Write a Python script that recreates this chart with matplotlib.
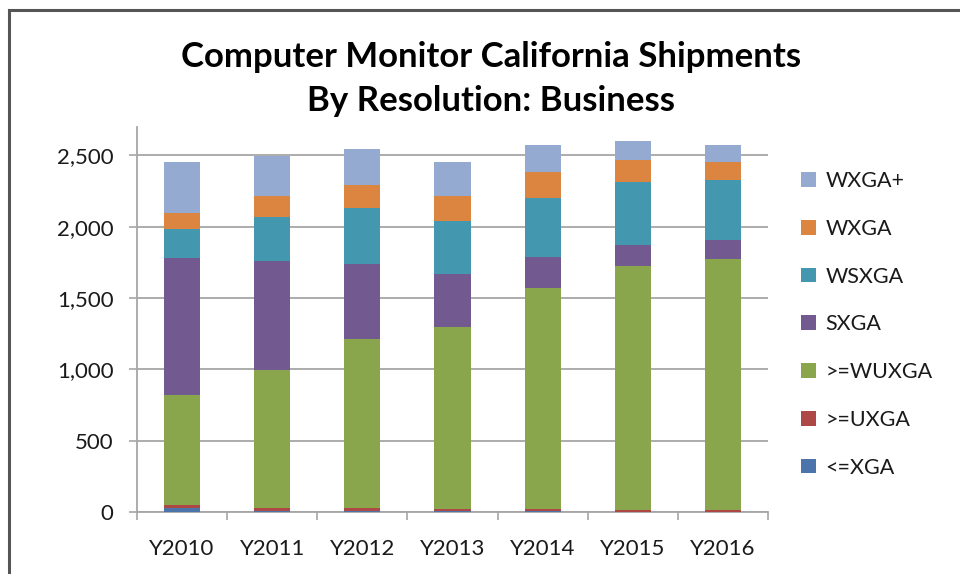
import matplotlib
matplotlib.use("Agg")
import matplotlib.pyplot as plt
from matplotlib.patches import Patch
from matplotlib.lines import Line2D
import numpy as np

years = ["Y2010", "Y2011", "Y2012", "Y2013", "Y2014", "Y2015", "Y2016"]
le_xga = [30, 12, 12, 9, 9, 3, 3]
ge_uxga = [20, 19, 19, 12, 12, 12, 12]
ge_wuxga = [769, 963, 1185, 1277, 1548, 1710, 1757]
sxga = [962, 764, 521, 373, 221, 145, 133]
wsxga = [206, 310, 394, 369, 411, 441, 425]
wxga = [109, 145, 164, 173, 182, 154, 126]
wxga_plus = [360, 285, 249, 243, 189, 133, 116]

series = [
    ("<=XGA", le_xga, "#4A74AA"),
    (">=UXGA", ge_uxga, "#AE4846"),
    (">=WUXGA", ge_wuxga, "#8AA64D"),
    ("SXGA", sxga, "#72598F"),
    ("WSXGA", wsxga, "#4398AF"),
    ("WXGA", wxga, "#DC8540"),
    ("WXGA+", wxga_plus, "#95AAD0"),
]

FONT = "Lato"
W, H = 960, 574
fig = plt.figure(figsize=(W / 100, H / 100), dpi=100)
fig.patch.set_facecolor("white")

ax = fig.add_axes([137 / W, (H - 512.3) / H, (768 - 137) / W, (512.3 - 127) / H])
x = np.arange(len(years))
bottom = np.zeros(len(years))
handles = []
for name, vals, col in series:
    ax.bar(x, vals, width=0.4, bottom=bottom, color=col, zorder=3, linewidth=0)
    bottom += np.array(vals)
    handles.append(Patch(facecolor=col, label=name))

ax.set_xlim(-0.5, len(years) - 0.5)
ax.set_ylim(0, 2698)
ax.set_yticks(np.arange(0, 2501, 500))
ax.yaxis.set_major_formatter(matplotlib.ticker.FuncFormatter(lambda v, p: f"{int(v):,}"))
ax.yaxis.grid(True, color="#A6A6A6", linewidth=1.3, zorder=0)
ax.set_xticks(x)
ax.set_xticklabels(years)
ax.set_xticks(np.arange(-0.5, len(years), 1), minor=True)
ax.tick_params(axis="x", which="major", length=0, pad=19, labelsize=16, labelcolor="#1a1a1a")
ax.tick_params(axis="x", which="minor", length=6, width=1.2, color="#A6A6A6")
ax.tick_params(axis="y", length=6, width=1.2, color="#A6A6A6", pad=11, labelsize=16, labelcolor="#1a1a1a")
for lab in ax.get_xticklabels() + ax.get_yticklabels():
    lab.set_fontfamily(FONT)
for s in ["top", "right"]:
    ax.spines[s].set_visible(False)
for s in ["left", "bottom"]:
    ax.spines[s].set_color("#A6A6A6")
    ax.spines[s].set_linewidth(1.3)

leg = fig.legend(handles=handles[::-1], loc="upper left", bbox_to_anchor=(801 / W, 1 - 171 / H),
                 frameon=False, prop={"family": FONT, "size": 15.5}, handlelength=0.68,
                 handleheight=0.68, handletextpad=0.45, labelspacing=1.29, borderpad=0,
                 borderaxespad=0)
for t in leg.get_texts():
    t.set_color("#1a1a1a")

fig.text(491 / W, 1 - 57 / H, "Computer Monitor California Shipments",
         ha="center", va="center", fontsize=25, fontweight="bold", family=FONT, color="black")
fig.text(491 / W, 1 - 101 / H, "By Resolution: Business",
         ha="center", va="center", fontsize=25, fontweight="bold", family=FONT, color="black")

# outer frame (top and left edges)
fig.add_artist(Line2D([8.5 / W, 1], [1 - 10 / H, 1 - 10 / H], color="#555555", linewidth=2.2))
fig.add_artist(Line2D([8.5 / W, 8.5 / W], [0, 1 - 10 / H], color="#555555", linewidth=2.2))

fig.savefig("out.png", dpi=100)
